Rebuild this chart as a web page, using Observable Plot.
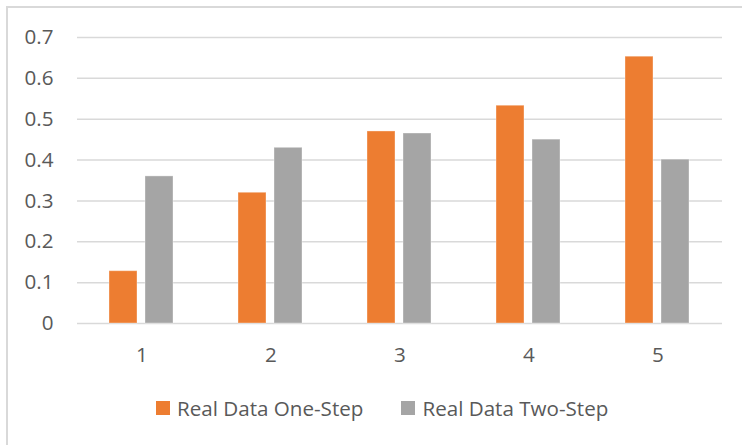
<!DOCTYPE html>
<html>
<head>
<meta charset="utf-8">
<script src="https://cdn.jsdelivr.net/npm/d3@7"></script>
<script src="https://cdn.jsdelivr.net/npm/@observablehq/plot@0.6"></script>
<style>
  html, body { margin: 0; padding: 0; background: #fff; }
  #wrap { position: relative; width: 742px; height: 445px; overflow: hidden; font-family: "Open Sans", sans-serif; }
  #frame { position: absolute; left: 6px; top: 6px; width: 740px; height: 445px; border-left: 2px solid #d9d9d9; border-top: 2px solid #d9d9d9; box-sizing: border-box; }
  #chart { position: absolute; left: 0; top: 0; }
  #legend { position: absolute; left: 156px; top: 394px; display: flex; align-items: center; font-size: 20.6px; color: #595959; white-space: nowrap; }
  .item { display: flex; align-items: center; }
  .sw { width: 14px; height: 14px; margin-right: 7px; }
</style>
</head>
<body>
<div id="wrap">
  <div id="frame"></div>
  <div id="chart"></div>
  <div id="legend"></div>
</div>
<script>
const categories = ["1", "2", "3", "4", "5"];
const series = ["Real Data One-Step", "Real Data Two-Step"];
const oneStep = [0.128, 0.320, 0.470, 0.533, 0.653];
const twoStep = [0.360, 0.430, 0.465, 0.450, 0.401];
const yTicks = [0, 0.1, 0.2, 0.3, 0.4, 0.5, 0.6, 0.7];
const colors = ["#ED7D31", "#A5A5A5"];

const data = [];
categories.forEach((c, i) => {
  data.push({cat: c, series: series[0], value: oneStep[i]});
  data.push({cat: c, series: series[1], value: twoStep[i]});
});

const chart = Plot.plot({
  width: 742,
  height: 375,
  marginLeft: 77,
  marginRight: 20,
  marginTop: 37,
  marginBottom: 52,
  style: {fontFamily: "Open Sans", fontSize: "20.6px", color: "#595959", background: "transparent"},
  fx: {domain: categories, padding: 0, label: null, tickSize: 0, tickPadding: 24},
  x: {domain: series, paddingInner: 0.218, paddingOuter: 0.867, axis: null},
  y: {domain: [0, 0.7], ticks: yTicks, tickSize: 0, tickPadding: 24, tickFormat: d => String(d), label: null},
  color: {domain: series, range: colors},
  marks: [
    Plot.gridY(yTicks, {stroke: "#D9D9D9", strokeOpacity: 1, strokeWidth: 1.5}),
    Plot.barY(data, {fx: "cat", x: "series", y: "value", fill: "series", stroke: "#fff", strokeOpacity: 0.35, strokeWidth: 1})
  ]
});
document.getElementById("chart").appendChild(chart);

const legend = document.getElementById("legend");
series.forEach((s, i) => {
  const item = document.createElement("div");
  item.className = "item";
  if (i > 0) item.style.marginLeft = "38px";
  const sw = document.createElement("div");
  sw.className = "sw";
  sw.style.background = colors[i];
  const t = document.createElement("span");
  t.textContent = s;
  item.appendChild(sw);
  item.appendChild(t);
  legend.appendChild(item);
});
</script>
</body>
</html>
